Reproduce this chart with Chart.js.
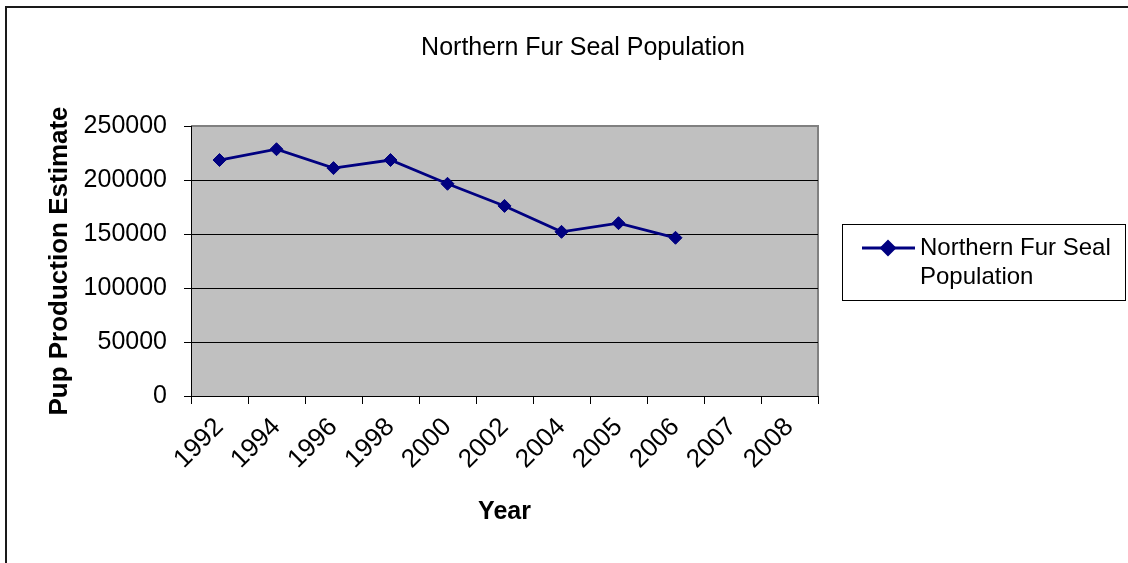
<!DOCTYPE html>
<html>
<head>
<meta charset="utf-8">
<title>Northern Fur Seal Population</title>
<script src="https://cdn.jsdelivr.net/npm/chart.js@4/dist/chart.umd.min.js"></script>
<style>
  html, body { margin: 0; padding: 0; background: #fff; overflow: hidden; }
  #frame {
    position: absolute; left: 5px; top: 6px; width: 1300px; height: 700px;
    border-left: 2px solid #1a1a1a; border-top: 2px solid #1a1a1a;
  }
  #chart { position: absolute; left: 0; top: 0; }
</style>
</head>
<body>
<div id="frame"></div>
<canvas id="chart" width="1128" height="563"></canvas>
<script>
// data
const years = ["1992", "1994", "1996", "1998", "2000", "2002", "2004", "2005", "2006", "2007", "2008"];
const pupEstimates = [218500, 228500, 211000, 218500, 196500, 176000, 152000, 160000, 146500];
const yTicks = [0, 50000, 100000, 150000, 200000, 250000];
const seriesName = "Northern Fur Seal Population";

const FONT = "'Liberation Sans', Arial, sans-serif";
const NAVY = "#000080";

// gray plot area with the gray frame on top / right
const plotBg = {
  id: "plotBg",
  beforeDraw(chart) {
    const { ctx, chartArea: a } = chart;
    ctx.save();
    ctx.fillStyle = "#c0c0c0";
    ctx.fillRect(a.left, a.top, a.right - a.left, a.bottom - a.top);
    ctx.strokeStyle = "#808080";
    ctx.lineWidth = 2;
    ctx.beginPath();
    ctx.moveTo(a.left, a.top);
    ctx.lineTo(a.right, a.top);
    ctx.lineTo(a.right, a.bottom);
    ctx.stroke();
    ctx.restore();
  }
};

// Excel style legend box to the right of the plot
const boxLegend = {
  id: "boxLegend",
  afterDraw(chart) {
    const { ctx, chartArea: a } = chart;
    const ds = chart.data.datasets[0];
    const left = a.right + 24, top = 224, w = 283, h = 76;
    ctx.save();
    ctx.strokeStyle = "#000";
    ctx.lineWidth = 1;
    ctx.strokeRect(left + 0.5, top + 0.5, w, h);

    const ly = top + 24;
    ctx.strokeStyle = ds.borderColor;
    ctx.lineWidth = ds.borderWidth;
    ctx.beginPath();
    ctx.moveTo(left + 20, ly);
    ctx.lineTo(left + 73, ly);
    ctx.stroke();
    ctx.fillStyle = ds.pointBackgroundColor;
    Chart.helpers.drawPoint(ctx, { pointStyle: "rectRot", radius: ds.pointRadius, borderWidth: 1 }, left + 46, ly);
    ctx.fill();

    // wrap the series name into lines
    ctx.font = "24px " + FONT;
    ctx.fillStyle = "#000";
    ctx.textBaseline = "middle";
    const words = ds.label.split(" ");
    const lines = [];
    let cur = "";
    words.forEach(wd => {
      const t = cur ? cur + " " + wd : wd;
      if (cur && ctx.measureText(t).width > 195) { lines.push(cur); cur = wd; } else cur = t;
    });
    lines.push(cur);
    lines.forEach((ln, i) => ctx.fillText(ln, left + 78, ly + i * 29));
    ctx.restore();
  }
};

new Chart(document.getElementById("chart"), {
  type: "line",
  data: {
    labels: years,
    datasets: [{
      label: seriesName,
      data: pupEstimates,
      borderColor: NAVY,
      backgroundColor: NAVY,
      pointBackgroundColor: NAVY,
      pointBorderColor: NAVY,
      borderWidth: 2.8,
      pointStyle: "rectRot",
      pointRadius: 6.5,
      pointBorderWidth: 1,
      tension: 0
    }]
  },
  options: {
    responsive: false,
    animation: false,
    devicePixelRatio: 1,
    layout: { padding: { left: 40, right: 2, top: 22, bottom: 0 } },
    plugins: {
      legend: { display: false },
      tooltip: { enabled: false },
      title: {
        display: true,
        text: seriesName,
        color: "#000",
        font: { family: FONT, size: 25, weight: "normal" },
        padding: { top: 11, bottom: 63 }
      }
    },
    scales: {
      x: {
        offset: true,
        grid: { offset: true, drawOnChartArea: false, drawTicks: true, tickLength: 8, color: "#000", lineWidth: 1 },
        border: { color: "#000", width: 1 },
        ticks: {
          color: "#000", font: { family: FONT, size: 26 },
          minRotation: 45, maxRotation: 45, autoSkip: false, padding: 8
        },
        title: {
          display: true, text: "Year", color: "#000",
          font: { family: FONT, size: 25, weight: "bold" },
          padding: { top: 0, bottom: 36 }
        },
        afterFit(scale) { scale.height = 167; }
      },
      y: {
        min: 0,
        max: 250000,
        afterBuildTicks(scale) { scale.ticks = yTicks.map(v => ({ value: v })); },
        grid: {
          color: ctx => (ctx.tick && ctx.tick.value === 250000 ? "#808080" : "#000"),
          tickColor: "#000",
          lineWidth: 1,
          tickLength: 7
        },
        border: { color: "#000", width: 1 },
        ticks: {
          color: "#000", font: { family: FONT, size: 25 }, padding: 17,
          callback: v => String(v)
        },
        title: {
          display: true, text: "Pup Production Estimate", color: "#000",
          font: { family: FONT, size: 26, weight: "bold" },
          padding: { top: 4, bottom: 0 }
        },
        afterFit(scale) { scale.width = 151; }
      },
      // empty axis that only keeps room for the legend box on the right
      legendSpace: {
        type: "linear",
        position: "right",
        display: true,
        grid: { display: false },
        border: { display: false },
        ticks: { display: false },
        afterFit(scale) { scale.width = 308; }
      }
    }
  },
  plugins: [plotBg, boxLegend]
});
</script>
</body>
</html>
